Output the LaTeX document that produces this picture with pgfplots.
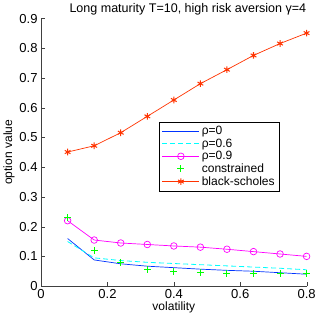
\documentclass[border=0pt]{standalone}
\usepackage{fontspec}
\setmainfont{Liberation Sans}
\usepackage{pgfplots}
\pgfplotsset{compat=1.18}
\definecolor{cblue}{rgb}{0,0.2,1}
\definecolor{ccyan}{rgb}{0,1,1}
\definecolor{cmag}{rgb}{1,0,1}
\definecolor{cgreen}{rgb}{0,1,0}
\definecolor{cred}{rgb}{1,0.2,0}
\pgfplotsset{longlegend/.style={legend image code/.code={\draw[mark repeat=2,mark phase=2,##1] plot coordinates {(0cm,0cm)(0.65cm,0cm)(1.3cm,0cm)};}}}
\begin{document}
\begin{tikzpicture}
\begin{axis}[
  scale only axis, width=265pt, height=267pt,
  xmin=0, xmax=0.8, ymin=0, ymax=0.9,
  axis x line*=bottom, axis y line*=left,
  axis line style={-, black!75},
  tick align=inside, tick style={black!75},
  xtick={0,0.2,0.4,0.6,0.8}, ytick={0,0.1,...,0.9},
  /pgf/number format/assume math mode=true,
  /pgf/number format/fixed,
  tick label style={font=\fontsize{13}{15}\selectfont},
  xlabel={volatility}, ylabel={option value},
  label style={font=\fontsize{12}{14}\selectfont},
  xlabel style={yshift=4pt}, ylabel style={yshift=-2pt},
  title={Long maturity T=10, high risk aversion γ=4},
  title style={font=\fontsize{12.5}{14}\selectfont, yshift=-6pt, xshift=14pt},
  legend style={at={(0.445,0.614)}, anchor=north west, draw=black, font=\fontsize{12}{14}\selectfont, row sep=-1.5pt, inner sep=2.5pt},
  legend cell align=left,
]
\addplot[color=cblue, line width=0.7pt, longlegend] coordinates {(0.08,0.16)(0.16,0.088)(0.24,0.075)(0.32,0.067)(0.40,0.062)(0.48,0.057)(0.56,0.053)(0.64,0.050)(0.72,0.045)(0.80,0.040)};
\addlegendentry{ρ=0}
\addplot[color=ccyan, line width=0.8pt, dash pattern=on 5pt off 3pt, longlegend] coordinates {(0.08,0.15)(0.16,0.095)(0.24,0.086)(0.32,0.080)(0.40,0.076)(0.48,0.072)(0.56,0.068)(0.64,0.064)(0.72,0.060)(0.80,0.055)};
\addlegendentry{ρ=0.6}
\addplot[color=cmag, line width=0.7pt, mark=o, mark size=3.3pt, longlegend] coordinates {(0.08,0.22)(0.16,0.155)(0.24,0.145)(0.32,0.140)(0.40,0.135)(0.48,0.131)(0.56,0.124)(0.64,0.116)(0.72,0.108)(0.80,0.100)};
\addlegendentry{ρ=0.9}
\addplot[color=cgreen, only marks, mark=+, mark size=3.5pt, line width=1.1pt, longlegend] coordinates {(0.08,0.23)(0.16,0.12)(0.24,0.08)(0.32,0.057)(0.40,0.049)(0.48,0.045)(0.56,0.042)(0.64,0.042)(0.72,0.042)(0.80,0.042)};
\addlegendentry{constrained}
\addplot[color=cred, line width=0.7pt, mark=asterisk, mark size=3.3pt, mark options={line width=1pt}, longlegend] coordinates {(0.08,0.451)(0.16,0.472)(0.24,0.516)(0.32,0.571)(0.40,0.626)(0.48,0.681)(0.56,0.728)(0.64,0.776)(0.72,0.816)(0.80,0.851)};
\addlegendentry{black-scholes}
\end{axis}
\end{tikzpicture}
\end{document}
